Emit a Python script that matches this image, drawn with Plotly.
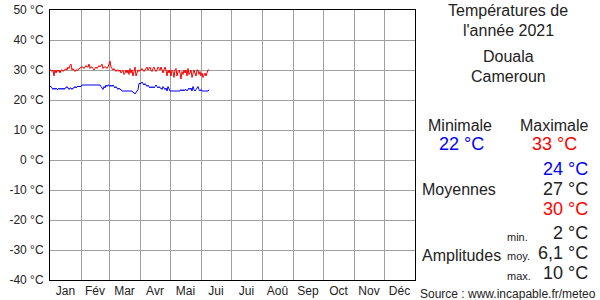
import plotly.graph_objects as go

# Daily temperatures 2021 (Douala), Jan 1 .. Jun 9
tmax = [
    # Jan
    30, 30, 29.5, 30, 28, 30, 29, 30, 29.5, 30, 29, 30, 30, 29.5, 30, 30, 30.5, 30, 31, 30.5, 31.5, 32, 30, 30.5, 30, 29.5, 30, 30, 30, 30.5, 30.5,
    # Feb
    31, 31, 31, 30.5, 31, 31.5, 31, 31, 32, 30.5, 31, 31, 30.5, 30, 30.5, 31, 30.5, 31, 31.5, 31, 31.5, 32, 30.5, 31, 31, 31, 30.5, 31,
    # Mar
    32, 33, 31, 30.5, 30, 30.5, 30, 29.5, 30, 30, 29.5, 30, 29, 29.5, 30, 28.5, 29, 30, 29, 30, 28.5, 30.5, 29, 30, 28, 29.5, 31, 28, 29, 30, 29.5,
    # Apr
    30, 30, 30.5, 30, 29.5, 30, 30.5, 31, 30, 30.5, 31, 30, 29.5, 30.5, 31, 30, 29.5, 30, 31, 30.5, 30, 31, 30, 29, 30, 31, 30, 28, 30, 29,
    # May
    30, 28, 30, 29.5, 27.5, 30, 30.5, 28, 29.5, 30, 29, 27, 29.5, 28.5, 30, 29, 30, 28, 30.5, 28.5, 29, 30, 27.5, 29, 30, 29, 28, 30, 30, 28.5, 29.5,
    # Jun
    28, 29, 27.5, 28.5, 29, 28, 29.5, 30, 30,
]
tmin = [
    # Jan
    24.5, 24.5, 24, 23.5, 24, 23.5, 24, 23.5, 23.5, 24, 23.5, 24, 23.5, 24, 23.5, 24, 24, 24.5, 24, 23.5, 24, 24, 23.5, 24, 24, 24.5, 24, 24.5, 24.5, 24.5, 24.5,
    # Feb
    24.5, 25, 25, 25, 25, 25, 25, 25, 25, 25, 25, 25, 25, 25, 25, 25, 25, 25, 25, 25, 24.5, 24, 23.5, 24.5, 24, 25, 24.5, 25,
    # Mar
    25, 24.5, 25, 24.5, 25, 24.5, 24, 24.5, 24, 23.5, 24, 23.5, 23.5, 23, 23, 23, 23, 23, 23, 23, 23, 23, 23, 23, 22.5, 22.5, 22, 22.5, 23, 23.5, 25.5,
    # Apr
    25.5, 25.5, 26, 25.5, 25, 25.5, 25, 24.5, 25, 24.5, 24, 24.5, 24, 24.5, 24, 24.5, 25, 24.5, 24, 24.5, 24, 24, 23.5, 24.5, 24, 23.5, 24, 23, 24.5, 23.5,
    # May
    23, 23, 23, 23, 23, 23, 23, 23, 23, 23, 23, 23.5, 23, 23.5, 23, 23.5, 23.5, 23, 23.5, 24, 23.5, 24, 23, 24.5, 23.5, 23, 23.5, 24, 24.5, 23.5, 23,
    # Jun
    23.5, 23, 23, 23, 23, 23, 23, 23, 23.5,
]
days = list(range(len(tmax)))

month_labels = ["Jan", "Fév", "Mar", "Avr", "Mai", "Jui", "Jui", "Aoû", "Sep", "Oct", "Nov", "Déc"]
month_lengths = [31, 28, 31, 30, 31, 30, 31, 31, 30, 31, 30, 31]
bounds = [0]
for m in month_lengths:
    bounds.append(bounds[-1] + m)
mids = [(bounds[i] + bounds[i + 1]) / 2 for i in range(12)]

y_ticks = list(range(-40, 51, 10))

FONT = "Liberation Sans, Arial, sans-serif"
TXT = "#222222"

fig = go.Figure()
fig.add_trace(go.Scatter(x=days, y=tmax, mode="lines", line=dict(color="#ff0000", width=1), hoverinfo="skip"))
fig.add_trace(go.Scatter(x=days, y=tmin, mode="lines", line=dict(color="#0000ff", width=1), hoverinfo="skip"))

fig.update_layout(
    width=600, height=300,
    margin=dict(l=50, r=185, t=10, b=20, autoexpand=False),
    paper_bgcolor="white", plot_bgcolor="white",
    showlegend=False,
    font=dict(family=FONT, size=12, color=TXT),
    xaxis=dict(
        range=[0, 365], tickmode="array", tickvals=mids, ticktext=month_labels,
        showgrid=False, ticks="", zeroline=False, automargin=False,
        showline=True, mirror=True, linecolor="black", linewidth=1,
        minor=dict(tickmode="array", tickvals=bounds, showgrid=True, gridcolor="#a0a0a0", gridwidth=1, ticks=""),
        tickfont=dict(size=12, color=TXT),
    ),
    yaxis=dict(
        range=[-40, 50], tickmode="array", tickvals=y_ticks,
        ticktext=[f"{v} °C" for v in y_ticks],
        showgrid=True, gridcolor="#a0a0a0", gridwidth=1, zeroline=False, ticks="", automargin=False,
        showline=True, mirror=True, linecolor="black", linewidth=1,
        ticklabelstandoff=3,
        tickfont=dict(size=12, color=TXT),
    ),
)

PL, PR, PT, PB = 50, 415, 10, 280
def px(xp):
    return (xp - PL) / (PR - PL)
def py(yp):
    return (PB - yp) / (PB - PT)

def txt(x, y, s, size=16, color=TXT, xanchor="center"):
    fig.add_annotation(x=px(x), y=py(y), xref="paper", yref="paper", text=s, showarrow=False,
                       xanchor=xanchor, yanchor="middle", font=dict(family=FONT, size=size, color=color))

txt(508, 10, "Températures de")
txt(508, 30, "l'année 2021")
txt(508, 57, "Douala")
txt(508, 77, "Cameroun")
txt(460, 125, "Minimale")
txt(554, 125, "Maximale")
txt(461, 144, "22 °C", size=18, color="#0000ff")
txt(554, 144, "33 °C", size=18, color="#ff0000")
txt(590, 169, "24 °C", size=18, color="#0000ff", xanchor="right")
txt(590, 189, "27 °C", size=18, xanchor="right")
txt(590, 209, "30 °C", size=18, color="#ff0000", xanchor="right")
txt(420, 189, "Moyennes", xanchor="left")
txt(420, 255, "Amplitudes", xanchor="left")
txt(505, 237, "min.", size=11, xanchor="left")
txt(505, 256, "moy.", size=11, xanchor="left")
txt(505, 276, "max.", size=11, xanchor="left")
txt(590, 233, "2 °C", size=18, xanchor="right")
txt(590, 253, "6,1 °C", size=18, xanchor="right")
txt(590, 273, "10 °C", size=18, xanchor="right")
txt(598, 294, "Source : www.incapable.fr/meteo", size=12, xanchor="right")

fig.write_html("out.html")
